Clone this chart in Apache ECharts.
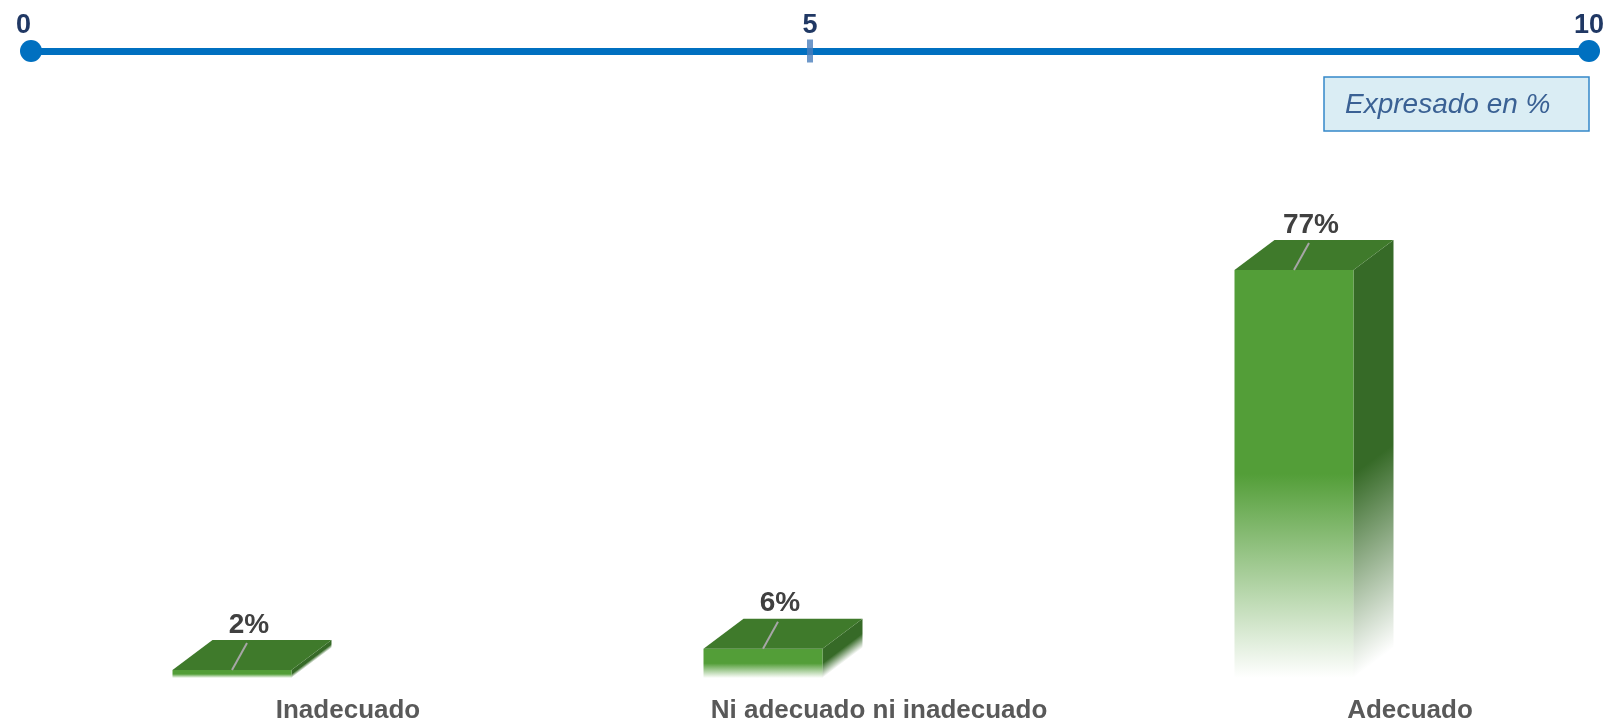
<!DOCTYPE html>
<html>
<head>
<meta charset="utf-8">
<script src="https://cdn.jsdelivr.net/npm/echarts@6/dist/echarts.min.js"></script>
<style>
html,body{margin:0;padding:0;background:#ffffff;}
#chart{width:1606px;height:722px;}
</style>
</head>
<body>
<div id="chart"></div>
<script>
// ---- data ----
const categories = ['Inadecuado', 'Ni adecuado ni inadecuado', 'Adecuado'];
const percentValues = [2, 6, 77];
const scaleTicks = [0, 5, 10];
const scaleMarker = [5];
const noteText = 'Expresado en %';

const FONT = '"Liberation Sans", Arial, sans-serif';
const Y_MIN = 0.5;

const chart = echarts.init(document.getElementById('chart'), null, {renderer: 'canvas'});

function renderBar(params, api) {
  const idx = api.value(0);
  const val = api.value(1);
  const top = api.coord([idx, val]);
  const base = api.coord([idx, Y_MIN]);
  const cx = top[0] - 116;
  const w = 119, dx = 40, dy = 30;
  const x0 = cx - w / 2, x1 = x0 + w;
  const yT = top[1], yB = base[1];
  const H = yB - yT;
  return {
    type: 'group',
    children: [
      {
        type: 'polygon',
        shape: {points: [[x1, yT], [x1 + dx, yT - dy], [x1 + dx, yB - dy], [x1, yB]]},
        style: {
          fill: new echarts.graphic.LinearGradient(
            x1, yT, x1 + 0.48 * H, yT + 0.64 * H, [
              {offset: 0, color: '#366a27'},
              {offset: 0.5, color: '#366a27'},
              {offset: 1, color: 'rgba(54,106,39,0)'}
            ], true)
        }
      },
      {
        type: 'rect',
        shape: {x: x0, y: yT, width: w, height: H},
        style: {
          fill: new echarts.graphic.LinearGradient(0, 0, 0, 1, [
            {offset: 0, color: '#539e38'},
            {offset: 0.5, color: '#539e38'},
            {offset: 1, color: 'rgba(83,158,56,0)'}
          ])
        }
      },
      {
        type: 'polygon',
        shape: {points: [[x0, yT], [x1, yT], [x1 + dx, yT - dy], [x0 + dx, yT - dy]]},
        style: {fill: '#3f7a2b'}
      },
      {
        type: 'line',
        shape: {x1: cx, y1: yT, x2: cx + 15, y2: yT - 27},
        style: {stroke: '#a6a6a6', lineWidth: 2}
      },
      {
        type: 'text',
        x: cx + 17,
        y: yT - 45,
        style: {
          text: val + '%',
          font: 'bold 28px ' + FONT,
          fill: '#404040',
          align: 'center',
          verticalAlign: 'middle'
        }
      }
    ]
  };
}

const option = {
  backgroundColor: '#ffffff',
  animation: false,
  grid: [
    {left: 348, right: 196, top: 270, bottom: 44, containLabel: false, outerBoundsMode: 'none'},
    {left: 31, right: 17, top: 40, height: 22, containLabel: false, outerBoundsMode: 'none'}
  ],
  xAxis: [
    {
      gridIndex: 0,
      type: 'category',
      data: categories,
      boundaryGap: false,
      axisLine: {show: false},
      axisTick: {show: false},
      splitLine: {show: false},
      axisLabel: {
        interval: 0,
        margin: 20,
        fontSize: 26,
        fontWeight: 'bold',
        fontFamily: FONT,
        color: '#595959'
      }
    },
    {
      gridIndex: 1,
      type: 'value',
      position: 'top',
      min: scaleTicks[0],
      max: scaleTicks[scaleTicks.length - 1],
      interval: scaleTicks[1] - scaleTicks[0],
      axisLine: {
        show: true,
        onZero: true,
        symbol: ['circle', 'circle'],
        symbolSize: [22, 22],
        lineStyle: {color: '#0070c0', width: 7}
      },
      axisTick: {show: false},
      splitLine: {show: false},
      axisLabel: {
        margin: 1,
        fontSize: 27,
        fontWeight: 'bold',
        fontFamily: FONT,
        color: '#203864',
        alignMinLabel: 'right'
      }
    }
  ],
  yAxis: [
    {gridIndex: 0, type: 'value', min: Y_MIN, max: 77, show: false},
    {gridIndex: 1, type: 'value', min: -1, max: 1, show: false}
  ],
  graphic: [
    {
      type: 'rect',
      shape: {x: 1324, y: 77, width: 265, height: 54},
      style: {fill: '#daedf4', stroke: '#3588c9', lineWidth: 1.5}
    },
    {
      type: 'text',
      x: 1345,
      y: 105,
      style: {
        text: noteText,
        font: 'italic 28px ' + FONT,
        fill: '#3a6194',
        verticalAlign: 'middle'
      }
    }
  ],
  series: [
    {
      type: 'custom',
      xAxisIndex: 0,
      yAxisIndex: 0,
      renderItem: renderBar,
      data: percentValues.map((v, i) => [i, v]),
      clip: false
    },
    {
      type: 'scatter',
      xAxisIndex: 1,
      yAxisIndex: 1,
      symbol: 'rect',
      symbolSize: [6, 23],
      itemStyle: {color: '#4a7ebb'},
      silent: true,
      data: scaleMarker.map(v => [v, 0])
    }
  ]
};

chart.setOption(option);
</script>
</body>
</html>
